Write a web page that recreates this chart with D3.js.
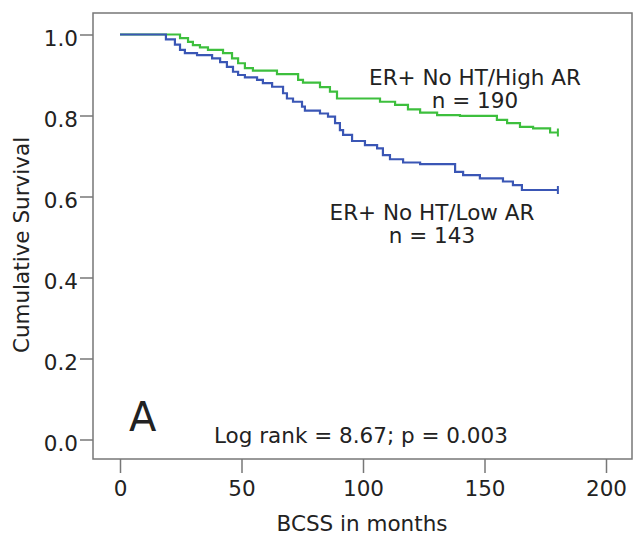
<!DOCTYPE html>
<html lang="en">
<head>
    <meta charset="UTF-8">
    <title>Cumulative Survival - BCSS</title>
    <script src="https://d3js.org/d3.v7.min.js"></script>
    <style>
        body { margin: 0; background: #fff; }
        text { font-family: "DejaVu Sans", Verdana, sans-serif; fill: #222; }
    </style>
</head>
<body>
    <svg id="chart" width="633" height="538"></svg>
    <script>
        // Kaplan-Meier steps (months, survival)
        const highArTimes = [0, 24.7, 28.0, 30.0, 32.9, 36.2, 42.4, 46.1, 48.6, 51.4, 54.7, 64.6, 73.3, 75.3, 82.3, 86.4, 89.3,
            107.0, 113.2, 118.5, 123.5, 130.5, 139.9, 155.1, 159.3, 164.6, 170.0, 177.0, 180.2];
        const highArSurv = [1.0, 0.991, 0.982, 0.974, 0.968, 0.962, 0.954, 0.941, 0.929, 0.917, 0.911, 0.902, 0.888, 0.881, 0.870, 0.859, 0.842,
            0.834, 0.826, 0.815, 0.807, 0.801, 0.799, 0.789, 0.781, 0.772, 0.768, 0.758, 0.758];

        const lowArTimes = [0, 18.9, 22.6, 24.7, 26.7, 31.7, 37.9, 41.2, 44.0, 46.5, 48.6, 51.4, 56.4, 58.8, 62.6, 67.1, 68.7, 71.2,
            74.9, 76.1, 82.3, 85.6, 88.5, 90.5, 91.8, 95.5, 100.8, 105.8, 108.2, 111.1, 116.5, 123.5, 137.9, 141.2, 148.1,
            157.6, 161.7, 165.4, 180.2];
        const lowArSurv = [1.0, 0.988, 0.975, 0.962, 0.954, 0.949, 0.941, 0.932, 0.920, 0.908, 0.900, 0.894, 0.888, 0.880, 0.871, 0.855, 0.842, 0.834,
            0.822, 0.812, 0.805, 0.797, 0.781, 0.764, 0.752, 0.737, 0.727, 0.719, 0.702, 0.692, 0.684, 0.680, 0.661, 0.653, 0.645,
            0.637, 0.628, 0.616, 0.616];

        const xTicks = [0, 50, 100, 150, 200];
        const yTicks = [0.0, 0.2, 0.4, 0.6, 0.8, 1.0];

        const svg = d3.select("#chart");

        // frame of the plot area
        const frame = { left: 93, top: 13, right: 632, bottom: 459 };

        const x = d3.scaleLinear().domain([0, 200]).range([120, 606]);
        const y = d3.scaleLinear().domain([0, 1]).range([439.5, 34.5]);

        const axisColor = "#777";

        svg.append("rect")
            .attr("x", frame.left)
            .attr("y", frame.top)
            .attr("width", frame.right - frame.left)
            .attr("height", frame.bottom - frame.top)
            .attr("fill", "none")
            .attr("stroke", axisColor)
            .attr("stroke-width", 1.5);

        // y axis
        const yAxis = svg.append("g")
            .attr("transform", `translate(${frame.left},0)`)
            .call(d3.axisLeft(y).tickValues(yTicks).tickFormat(d3.format(".1f")).tickSize(13).tickPadding(2));
        yAxis.select(".domain").remove();
        yAxis.selectAll("line").attr("stroke", axisColor).attr("stroke-width", 1.5);
        yAxis.selectAll("text")
            .attr("font-size", 21.5)
            .attr("dy", "0.5em")
            .style("font-family", "DejaVu Sans, sans-serif")
            .attr("fill", "#222");

        // x axis
        const xAxis = svg.append("g")
            .attr("transform", `translate(0,${frame.bottom})`)
            .call(d3.axisBottom(x).tickValues(xTicks).tickSize(14).tickPadding(8));
        xAxis.select(".domain").remove();
        xAxis.selectAll("line").attr("stroke", axisColor).attr("stroke-width", 1.5);
        xAxis.selectAll("text")
            .attr("font-size", 21.5)
            .style("font-family", "DejaVu Sans, sans-serif")
            .attr("fill", "#222");

        // axis titles
        svg.append("text")
            .attr("transform", "translate(29,245) rotate(-90)")
            .attr("text-anchor", "middle")
            .attr("font-size", 21.5)
            .text("Cumulative Survival");

        svg.append("text")
            .attr("x", 362)
            .attr("y", 531)
            .attr("text-anchor", "middle")
            .attr("font-size", 21.5)
            .text("BCSS in months");

        // survival curves
        const line = d3.line()
            .x(d => x(d[0]))
            .y(d => y(d[1]))
            .curve(d3.curveStepAfter);

        const curves = [
            { times: highArTimes, surv: highArSurv, color: "#3dbf3d" },
            { times: lowArTimes, surv: lowArSurv, color: "#3a56b5" }
        ];

        curves.forEach(c => {
            const pts = c.times.map((t, i) => [t, c.surv[i]]);
            svg.append("path")
                .datum(pts)
                .attr("d", line)
                .attr("fill", "none")
                .attr("stroke", c.color)
                .attr("stroke-width", 2.2);

            // censor mark at the end
            const last = pts[pts.length - 1];
            svg.append("line")
                .attr("x1", x(last[0]))
                .attr("x2", x(last[0]))
                .attr("y1", y(last[1]) - 4)
                .attr("y2", y(last[1]) + 4)
                .attr("stroke", c.color)
                .attr("stroke-width", 2);
        });

        // labels
        const labels = [
            { lines: ["ER+ No HT/High AR", "n = 190"], cx: 475, y0: 85 },
            { lines: ["ER+ No HT/Low AR", "n = 143"], cx: 432, y0: 220 }
        ];
        labels.forEach(l => {
            l.lines.forEach((s, i) => {
                svg.append("text")
                    .attr("x", l.cx)
                    .attr("y", l.y0 + i * 22.5)
                    .attr("text-anchor", "middle")
                    .attr("font-size", 21.5)
                    .text(s);
            });
        });

        svg.append("text")
            .attr("x", 129)
            .attr("y", 431)
            .attr("font-size", 40)
            .text("A");

        svg.append("text")
            .attr("x", 214)
            .attr("y", 443)
            .attr("font-size", 21.5)
            .text("Log rank = 8.67; p = 0.003");
    </script>
</body>
</html>
